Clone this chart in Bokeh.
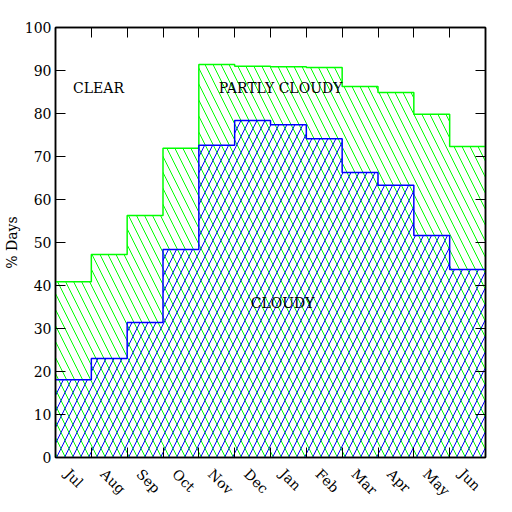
import math
from bokeh.plotting import figure
from bokeh.models import FixedTicker, LinearAxis, Range1d, Label
from bokeh.embed import file_html
from bokeh.resources import INLINE

months = ["Jul", "Aug", "Sep", "Oct", "Nov", "Dec", "Jan", "Feb", "Mar", "Apr", "May", "Jun"]
not_clear = [40.9, 47.2, 56.3, 71.9, 91.4, 91.0, 90.9, 90.7, 86.3, 84.9, 79.8, 72.3]
cloudy = [18.1, 23.0, 31.4, 48.4, 72.6, 78.4, 77.4, 74.1, 66.3, 63.3, 51.6, 43.7]
y_ticks = list(range(0, 101, 10))
region_text = ["CLEAR", "PARTLY CLOUDY", "CLOUDY"]

n = len(months)
edges = list(range(n + 1))
label_pos = [i + 0.33 for i in range(n)]
FONT = "DejaVu Serif"
GREEN = "#00ff00"
BLUE = "#0000ff"

p = figure(frame_width=430, frame_height=430,
           x_range=Range1d(0, n), y_range=Range1d(0, 100),
           output_backend="svg", toolbar_location=None,
           x_axis_location=None, y_axis_location=None,
           min_border_top=27, min_border_right=24,
           min_border_left=0, min_border_bottom=0)
p.xgrid.visible = False
p.ygrid.visible = False
p.outline_line_color = "black"
p.outline_line_width = 1.5
p.background_fill_color = "white"
p.border_fill_color = "white"

ng = not_clear + [not_clear[-1]]
cl = cloudy + [cloudy[-1]]
p.varea_step(x=edges, y1=[0] * (n + 1), y2=ng, step_mode="after",
             fill_alpha=0, hatch_pattern="left_diagonal_line",
             hatch_color=GREEN, hatch_scale=16, hatch_weight=1)
p.varea_step(x=edges, y1=[0] * (n + 1), y2=cl, step_mode="after",
             fill_alpha=0, hatch_pattern="right_diagonal_line",
             hatch_color=BLUE, hatch_scale=16, hatch_weight=1)
p.step(x=edges, y=ng, mode="after", line_color=GREEN, line_width=1.5)
p.step(x=edges, y=cl, mode="after", line_color=BLUE, line_width=1.5)

xt = FixedTicker(ticks=label_pos, minor_ticks=edges[1:-1])
yt = FixedTicker(ticks=y_ticks, minor_ticks=[])


def style(ax, labels):
    ax.major_tick_in = 10
    ax.major_tick_out = 0
    ax.minor_tick_in = 10
    ax.minor_tick_out = 0
    ax.axis_line_color = "black"
    ax.axis_line_width = 1.5
    ax.major_tick_line_color = "black"
    ax.minor_tick_line_color = "black"
    ax.major_label_text_font = FONT
    ax.major_label_text_font_size = "14px"
    ax.major_label_text_color = "black"
    if not labels:
        ax.major_label_overrides = {t: "" for t in ax.ticker.ticks}
        ax.major_label_standoff = 0


bottom = LinearAxis(ticker=xt)
style(bottom, True)
bottom.major_tick_line_color = None
bottom.major_label_overrides = {c: m for c, m in zip(label_pos, months)}
bottom.major_label_orientation = -math.pi / 4
bottom.major_label_standoff = 14
p.add_layout(bottom, "below")

top = LinearAxis(ticker=xt)
style(top, False)
top.major_tick_line_color = None
p.add_layout(top, "above")

left = LinearAxis(ticker=yt)
style(left, True)
left.major_label_standoff = 4
left.axis_label = "% Days"
left.axis_label_text_font = FONT
left.axis_label_text_font_style = "normal"
left.axis_label_text_font_size = "14px"
left.axis_label_text_color = "black"
left.axis_label_standoff = 2
p.add_layout(left, "left")

right = LinearAxis(ticker=yt)
style(right, False)
p.add_layout(right, "right")

for txt, x, y in zip(region_text, [1.2, 6.28, 6.34], [86, 86, 36]):
    p.add_layout(Label(x=x, y=y, text=txt, text_align="center",
                       text_baseline="middle", text_font=FONT,
                       text_font_size="14px", text_color="black",
                       background_fill_color=None))

open("out.html", "w").write(file_html(p, INLINE))
